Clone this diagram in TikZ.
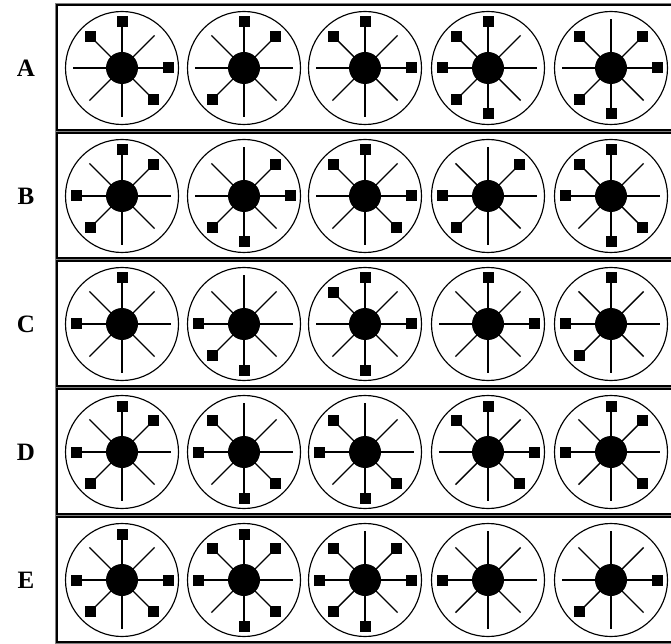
\documentclass[tikz,border=0pt]{standalone}
\usepackage{fontspec}
\setmainfont{Liberation Serif}
\newcommand{\wheel}[3]{%
  \begin{scope}[shift={(#1,#2)}]
    \draw[ring] (0,0) circle (56.5);
    \foreach \a in {0,90,180,270} \draw[spoke] (0,0) -- (\a:49);
    \foreach \a in {45,135,225,315} \draw[dspoke] (0,0) -- (\a:46);
    \fill[hub] (0,0) circle (16);
    \foreach \a in {#3} {
      \pgfmathsetmacro\dd{mod(\a,90)==0 ? 46 : 44}
      \fill[tip] (\a:\dd) ++(-5.5,-5.5) rectangle ++(11,11);
    }
  \end{scope}}
\newcommand{\rowframe}[1]{%
  \draw[gray,line width=1pt] (55.5,#1+64.5) rectangle (700,#1-63.5);
  \draw[black,line width=1.3pt] (57,#1+63) rectangle (700,#1-62);}
\begin{document}
\begin{tikzpicture}[x=1pt,y=1pt,
  ring/.style={draw=black,line width=1.15pt},
  spoke/.style={draw=black,line width=1.8pt},
  dspoke/.style={draw=black,line width=1.4pt},
  hub/.style={black},
  tip/.style={black},
  lab/.style={font=\bfseries\fontsize{25}{25}\selectfont,inner sep=0pt}]
\useasboundingbox (0,0) rectangle (671,643);
\clip (0,0) rectangle (671,643);
\fill[white] (0,0) rectangle (671,643);
% frames
\rowframe{575}
\rowframe{447}
\rowframe{319}
\rowframe{191}
\rowframe{63}
% labels
\node[lab] (la) at (26,575) {A};
\node[lab] (lb) at (26,447) {B};
\node[lab] (lc) at (26,319) {C};
\node[lab] (ld) at (26,191) {D};
\node[lab] (le) at (26,63) {E};
% row A
\wheel{122}{575}{90,135,0,315}
\wheel{244}{575}{90,45,225}
\wheel{365}{575}{90,135,0}
\wheel{488}{575}{90,135,180,225,270}
\wheel{611}{575}{135,45,0,225,270}
% row B
\wheel{122}{447}{90,45,180,225}
\wheel{244}{447}{45,0,225,270}
\wheel{365}{447}{90,135,0,315}
\wheel{488}{447}{45,180,225}
\wheel{611}{447}{90,135,180,315,270}
% row C
\wheel{122}{319}{90,180}
\wheel{244}{319}{180,225,270}
\wheel{365}{319}{90,135,0,270}
\wheel{488}{319}{90,0}
\wheel{611}{319}{90,180,225}
% row D
\wheel{122}{191}{90,45,180,225}
\wheel{244}{191}{135,180,315,270}
\wheel{365}{191}{135,180,315,270}
\wheel{488}{191}{90,135,0,315}
\wheel{611}{191}{90,45,180,315}
% row E
\wheel{122}{63}{90,180,0,225,315}
\wheel{244}{63}{90,135,45,180,315,270}
\wheel{365}{63}{135,45,180,0,225,270}
\wheel{488}{63}{180}
\wheel{611}{63}{0,225}
\end{tikzpicture}
\end{document}
